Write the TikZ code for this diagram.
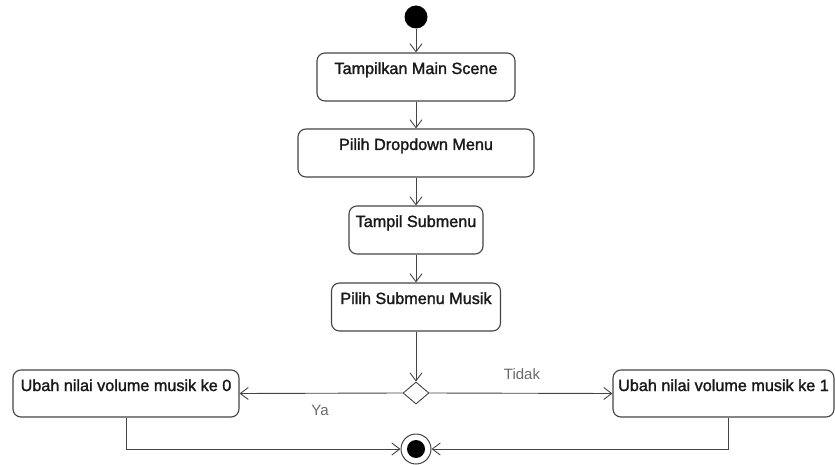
\documentclass[tikz,border=0pt]{standalone}
\usepackage{fontspec}
\setmainfont{Liberation Sans}
\newfontfamily\boxfont[FakeBold=1.6]{Liberation Sans}
\usetikzlibrary{arrows.meta,shapes.geometric}
\definecolor{linec}{HTML}{444444}
\definecolor{labc}{HTML}{6A6A6A}
\begin{document}
\begin{tikzpicture}[x=1pt,y=-1pt,
  actbox/.style={draw=linec,line width=1.1pt,rounded corners=8pt,fill=white,
    inner sep=4pt,minimum height=48pt,text height=17pt,text depth=23pt,
    font=\boxfont\fontsize{16.2}{18}\selectfont,text=black!90},
  flow/.style={draw=linec,line width=0.9pt,-{Straight Barb[length=8pt,width=12pt,line width=0.9pt]}},
  lab/.style={text=labc,font=\fontsize{15}{17}\selectfont,inner sep=0pt}]
\useasboundingbox (0,0) rectangle (835,465);
\node[circle,fill=black,minimum size=23pt,inner sep=0pt] (start) at (416,17) {};
\node[actbox,minimum width=198pt] (b1) at (416,77) {Tampilkan Main Scene};
\node[actbox,minimum width=236pt] (b2) at (416,153) {Pilih Dropdown Menu};
\node[actbox,minimum width=134pt] (b3) at (416,230) {Tampil Submenu};
\node[actbox,minimum width=169pt] (b4) at (416,307) {Pilih Submenu Musik};
\node[diamond,draw=linec,line width=0.9pt,fill=white,minimum width=26pt,minimum height=22pt,inner sep=0pt] (d) at (416,393) {};
\node[actbox,minimum width=226pt,minimum height=47pt,text depth=22pt] (lb) at (126,393.5) {Ubah nilai volume musik ke 0};
\node[actbox,minimum width=221pt,minimum height=47pt,text depth=22pt] (rb) at (723.5,393.5) {Ubah nilai volume musik ke 1};
\node[circle,draw=linec,line width=1pt,fill=white,minimum size=30pt,inner sep=0pt,
  path picture={\fill[black] (path picture bounding box.center) circle (9pt);}] (end) at (416,449) {};
\draw[flow] (start) -- (b1);
\draw[flow] (b1) -- (b2);
\draw[flow] (b2) -- (b3);
\draw[flow] (b3) -- (b4);
\draw[flow] (b4) -- (d);
\draw[flow] (d.west) -- (lb.east);
\draw[flow] (d.east) -- (rb.west);
\draw[flow] (lb.south) |- (end.west);
\draw[flow] ([xshift=4.5pt]rb.south) |- (end.east);
\node[lab] (ya) at (320,410) {Ya};
\node[lab] (tidak) at (522,374) {Tidak};
\end{tikzpicture}
\end{document}
